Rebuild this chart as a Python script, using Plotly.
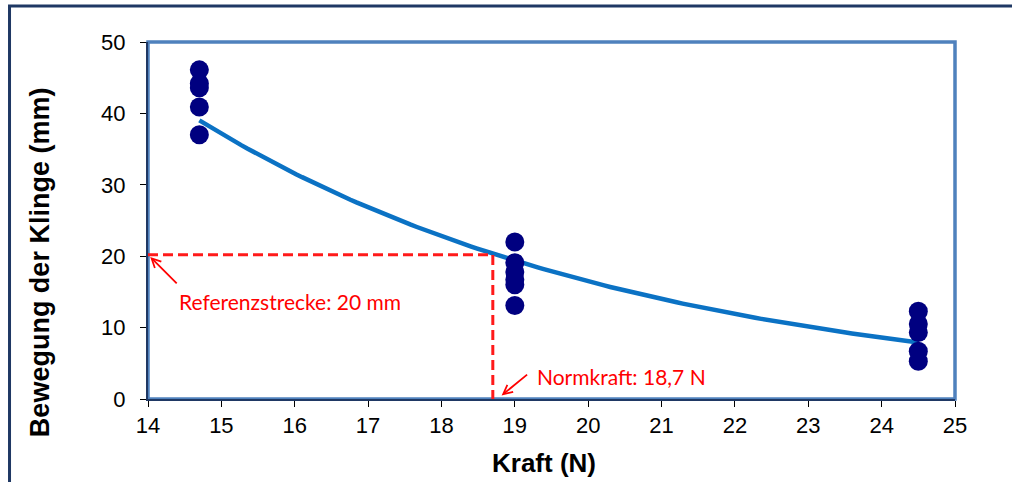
import numpy as np
import plotly.graph_objects as go

# Data
force_groups = [14.7, 19.0, 24.5]
movement_1470 = [46.1, 44.2, 43.6, 40.9, 37.0]
movement_1900 = [22.0, 19.1, 17.8, 16.7, 16.0, 13.1]
movement_2450 = [12.3, 10.5, 9.3, 6.7, 5.3]
ref_distance = 20.2
norm_force = 18.7
x_ticks = list(range(14, 26))
y_ticks = [0, 10, 20, 30, 40, 50]

xs = [force_groups[0]] * len(movement_1470) + [force_groups[1]] * len(movement_1900) + [force_groups[2]] * len(movement_2450)
ys = movement_1470 + movement_1900 + movement_2450

# exponential trendline (as Excel would fit it)
b, ln_a = np.polyfit(np.array(xs), np.log(np.array(ys)), 1)
tx = np.linspace(force_groups[0], force_groups[-1], 120)
ty = np.exp(ln_a) * np.exp(b * tx)

fig = go.Figure()
fig.add_trace(go.Scatter(x=tx, y=ty, mode="lines",
                         line=dict(color="#0B72C4", width=4.5), hoverinfo="skip"))
fig.add_trace(go.Scatter(x=xs, y=ys, mode="markers",
                         marker=dict(color="#000080", size=19)))
# reference dashed lines
fig.add_trace(go.Scatter(x=[14, norm_force, norm_force], y=[ref_distance, ref_distance, 0],
                         mode="lines", line=dict(color="#FF1A1A", width=3, dash="10px,5px")))

red = "#FF0000"
afont = dict(family="Lato, Open Sans, Liberation Sans", size=21, color=red)
fig.add_annotation(x=14.03, y=ref_distance - 0.3, ax=28, ay=28, text="", showarrow=True,
                   arrowhead=5, arrowsize=1, arrowwidth=1.8, arrowcolor=red)
fig.add_annotation(x=14.4, y=13.6, xref="x", yref="y", xanchor="left", text="Referenzstrecke: 20 mm",
                   showarrow=False, font=afont)
fig.add_annotation(x=norm_force + 0.12, y=0.5, ax=27, ay=-22, text="", showarrow=True,
                   arrowhead=5, arrowsize=1, arrowwidth=1.8, arrowcolor=red)
fig.add_annotation(x=19.28, y=3.1, xref="x", yref="y", xanchor="left", text="Normkraft: 18,7 N",
                   showarrow=False, font=afont)

# axis titles
fig.add_annotation(x=-0.134, y=0.383, xref="paper", yref="paper", textangle=-90,
                   xanchor="center", yanchor="middle",
                   text="<b>Bewegung der Klinge (mm)</b>", showarrow=False,
                   font=dict(family="Liberation Sans", size=27, color="black"))
fig.add_annotation(x=0.491, y=-0.179, xref="paper", yref="paper",
                   xanchor="center", yanchor="middle",
                   text="<b>Kraft (N)</b>", showarrow=False,
                   font=dict(family="Liberation Sans", size=26, color="black"))

# plot area border (light blue top/right)
fig.add_shape(type="rect", xref="paper", yref="paper", x0=0, y0=0, x1=1, y1=1,
              line=dict(color="#4F81BD", width=3.5), layer="below")
# outer frame (top and left visible)
fig.add_shape(type="rect", xref="paper", yref="paper", x0=-0.1716, y0=-0.26, x1=1.1, y1=1.1008,
              line=dict(color="#1F3864", width=3))

fig.update_layout(
    width=1012, height=482,
    margin=dict(l=148, r=57, t=42, b=83),
    paper_bgcolor="white", plot_bgcolor="white",
    showlegend=False,
    font=dict(family="Liberation Sans, Arial", size=22, color="black"),
    xaxis=dict(range=[14, 25], tickvals=x_ticks, showgrid=False, zeroline=False,
               showline=True, linecolor="#1F3864", linewidth=2, ticks="outside", ticklen=6,
               tickcolor="black"),
    yaxis=dict(range=[0, 50], tickvals=y_ticks, showgrid=False, zeroline=False,
               showline=True, linecolor="#1F3864", linewidth=2, ticks="outside", ticklen=6,
               tickcolor="black", ticklabelstandoff=10),
)

fig.write_html("out.html", config={"displayModeBar": False},
               post_script="document.body.style.margin='0px';")
